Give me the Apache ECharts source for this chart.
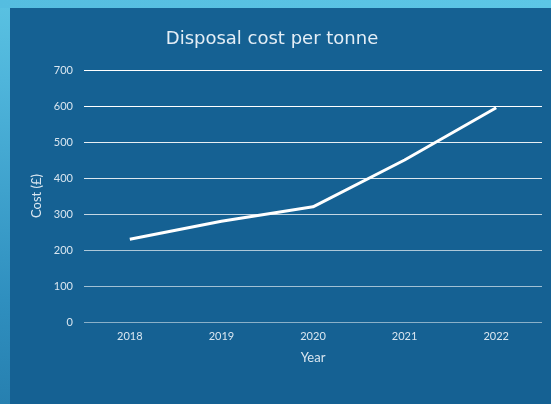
<!DOCTYPE html>
<html>
<head>
<meta charset="utf-8">
<script src="https://cdn.jsdelivr.net/npm/echarts@6/dist/echarts.min.js"></script>
<style>
  html, body { margin: 0; padding: 0; width: 551px; height: 404px; overflow: hidden; }
  body { background: linear-gradient(to bottom, #5ac2e2 0px, #4fb5db 80px, #2f8fbf 300px, #2780b0 404px); position: relative; }
  #topStrip { position: absolute; left: 0; top: 0; width: 551px; height: 8px; background: linear-gradient(to right, #55bde0, #5cc6e6); }
  #panel { position: absolute; left: 10px; top: 8px; width: 541px; height: 396px; background: #156193; }
  #chart { position: absolute; left: 0; top: 0; width: 551px; height: 404px; }
</style>
</head>
<body>
<div id="topStrip"></div>
<div id="panel"></div>
<div id="chart"></div>
<script>
// Disposal cost per tonne, by year
const years = ['2018', '2019', '2020', '2021', '2022'];
const costs = [230, 280, 320, 450, 595];
const yTicks = [0, 100, 200, 300, 400, 500, 600, 700];

const textColor = '#d9e6f0';
const font = 'Lato, "DejaVu Sans", sans-serif';

const chart = echarts.init(document.getElementById('chart'), null, { renderer: 'canvas' });
chart.setOption({
  backgroundColor: 'transparent',
  animation: false,
  title: {
    text: 'Disposal cost per tonne',
    left: 267,
    top: 25,
    textAlign: 'center',
    textStyle: { color: '#e4eef6', fontSize: 18, fontWeight: 'normal', fontFamily: '"DejaVu Sans", sans-serif' }
  },
  grid: { left: 84, right: 9, top: 70, bottom: 82 },
  xAxis: {
    type: 'category',
    data: years,
    boundaryGap: true,
    name: 'Year',
    nameLocation: 'middle',
    nameGap: 29,
    nameTextStyle: { color: textColor, fontSize: 13, fontFamily: font },
    axisLine: { show: false },
    axisTick: { show: false },
    axisLabel: { color: textColor, fontSize: 11, fontFamily: font, margin: 9 }
  },
  yAxis: {
    type: 'value',
    min: yTicks[0],
    max: yTicks[yTicks.length - 1],
    interval: 100,
    name: 'Cost (£)',
    nameLocation: 'middle',
    nameGap: 38,
    nameTextStyle: { color: textColor, fontSize: 13, fontFamily: font },
    axisLine: { show: false },
    axisTick: { show: false },
    axisLabel: { color: textColor, fontSize: 11, fontFamily: font, margin: 11 },
    splitLine: {
      lineStyle: {
        width: 1,
        color: [
          'rgba(255,255,255,0.5)',
          'rgba(255,255,255,0.6)',
          'rgba(255,255,255,0.65)',
          'rgba(255,255,255,0.75)',
          'rgba(255,255,255,0.85)',
          'rgba(255,255,255,0.9)',
          'rgba(255,255,255,1)',
          'rgba(255,255,255,1)'
        ]
      }
    }
  },
  series: [{
    type: 'line',
    data: costs,
    symbol: 'none',
    lineStyle: { color: '#ffffff', width: 3 }
  }]
});
</script>
</body>
</html>
